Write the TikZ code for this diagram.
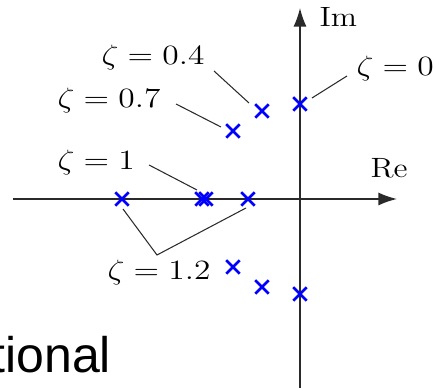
\documentclass[tikz,border=0pt]{standalone}
\usepackage{fontspec}
\newfontfamily\slidefont{Liberation Sans}
\usepackage{xcolor}
\definecolor{cAxis}{HTML}{2A2A2A}
\definecolor{cPole}{HTML}{0000FF}
\usetikzlibrary{arrows.meta,shapes.misc}
\tikzset{
  axis-line/.style={draw=cAxis,line width=0.65pt,-{Latex[length=8pt,width=5.6pt]}},
  leader/.style={draw=cAxis,line width=0.45pt},
  pole/.style={cross out,draw=cPole,line width=1.2pt,minimum size=4.6pt,inner sep=0pt},
  zeta-label/.style={inner sep=0pt,anchor=base west,xscale=1.2,font=\large},
  axis-label/.style={inner sep=0pt,anchor=base west,xscale=1.15,font=\large},
}
\begin{document}
\begin{tikzpicture}[x=0.43pt,y=-0.43pt]
  \useasboundingbox (0,0) rectangle (436,388);
  \clip (0,0) rectangle (436,388);

  % axes
  \coordinate (re-start) at (13,199);
  \coordinate (re-end)   at (397,199);
  \coordinate (im-start) at (300,392);
  \coordinate (im-end)   at (300,8);
  \draw[axis-line] (re-start) -- (re-end);
  \draw[axis-line] (im-start) -- (im-end);
  \node[axis-label] (im-lbl) at (319,27)  {Im};
  \node[axis-label] (re-lbl) at (370,178) {Re};

  % poles
  \node[pole] (p0u)  at (300,104) {};
  \node[pole] (p0l)  at (300,294) {};
  \node[pole] (p04u) at (262,111) {};
  \node[pole] (p04l) at (262,287) {};
  \node[pole] (p07u) at (233,131) {};
  \node[pole] (p07l) at (233,267) {};
  \node[pole] (p1a)  at (202,199) {};
  \node[pole] (p1b)  at (206,199) {};
  \node[pole] (p12a) at (122,199) {};
  \node[pole] (p12b) at (248,199) {};

  % damping labels
  \node[zeta-label] (z04) at (101,65)  {$\zeta = 0.4$};
  \node[zeta-label] (z0)  at (356,76)  {$\zeta = 0$};
  \node[zeta-label] (z07) at (57,108)  {$\zeta = 0.7$};
  \node[zeta-label] (z1)  at (57,170)  {$\zeta = 1$};
  \node[zeta-label] (z12) at (107,280) {$\zeta = 1.2$};

  % leaders
  \coordinate (l04a) at (214,71);  \coordinate (l04b) at (249,103);
  \coordinate (l0a)  at (347,76);  \coordinate (l0b)  at (312,98);
  \coordinate (l07a) at (176,104); \coordinate (l07b) at (221,127);
  \coordinate (l1a)  at (149,165); \coordinate (l1b)  at (197,190);
  \coordinate (l12a) at (123,209); \coordinate (l12v) at (157,255);
  \coordinate (l12b) at (246,208);
  \draw[leader] (l04a) -- (l04b);
  \draw[leader] (l0a) -- (l0b);
  \draw[leader] (l07a) -- (l07b);
  \draw[leader] (l1a) -- (l1b);
  \draw[leader] (l12a) -- (l12v) -- (l12b);

  % slide text
  \node[inner sep=0pt,anchor=base west,font=\slidefont\fontsize{21.5}{24}\selectfont] (slide-txt) at (-9,373) {tional};
\end{tikzpicture}
\end{document}
